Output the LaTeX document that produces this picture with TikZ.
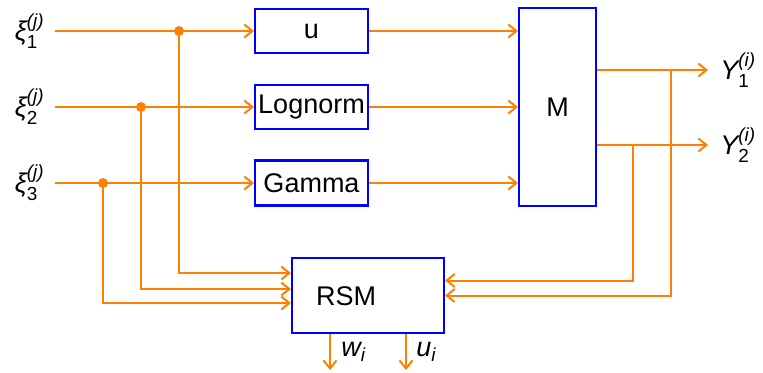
\documentclass[tikz,border=0pt]{standalone}
\usepackage{amsmath}
\usepackage{fontspec}
\setmainfont{Liberation Sans}
\usetikzlibrary{arrows.meta}
\definecolor{flowc}{RGB}{255,128,0}
\newcommand\xlab[3]{$\text{\itshape #1}^{\text{\itshape (#3)}}_{\text{#2}}$}
\newcommand\ilab[2]{$\text{\itshape #1}_{\text{\itshape #2}}$}
\begin{document}
\begin{tikzpicture}[x=0.5pt,y=-0.5pt,
  lab/.style={font=\fontsize{13.5}{16}\selectfont,inner sep=0pt},
  box/.style={draw=blue,line width=1.1pt,inner sep=0pt,font=\fontsize{13.5}{16}\selectfont},
  flow/.style={draw=flowc,line width=1pt},
  arr/.style={flow,-{Straight Barb[length=4pt,width=6.5pt]}},
  dot/.style={circle,fill=flowc,inner sep=0pt,minimum size=5pt}]
\useasboundingbox (0,0) rectangle (763,372);
% boxes
\node[box,minimum width=56.5pt,minimum height=22pt] (u) at (311.5,31) {u};
\node[box,minimum width=56.5pt,minimum height=22pt] (logn) at (311.5,107) {Lognorm};
\node[box,minimum width=56.5pt,minimum height=22.5pt] (gam) at (311.5,183) {Gamma};
\node[box,minimum width=38.5pt,minimum height=99pt] (M) at (557.5,107) {M};
\node[box,minimum width=76pt,minimum height=37.5pt] (RSM) at (368,295.5) {};
\node[lab] (rsmt) at (346,296) {RSM};
% input labels and starts
\coordinate (s1) at (55,31);
\coordinate (s2) at (55,107);
\coordinate (s3) at (55,183);
\node[lab,anchor=east] (x1) at (45,31) {\xlab{ξ}{1}{j}};
\node[lab,anchor=east] (x2) at (45,107) {\xlab{ξ}{2}{j}};
\node[lab,anchor=east] (x3) at (45,183) {\xlab{ξ}{3}{j}};
% branch points
\coordinate (d1) at (179,31);
\coordinate (d2) at (141,107);
\coordinate (d3) at (103,183);
% inputs
\draw[arr] (s1) -- (u);
\draw[arr] (s2) -- (logn);
\draw[arr] (s3) -- (gam);
\draw[arr] (u) -- (u -| M.west);
\draw[arr] (logn) -- (logn -| M.west);
\draw[arr] (gam) -- (gam -| M.west);
% branches to RSM
\draw[arr] (d1) |- ([yshift=11.25pt]RSM.west);
\draw[arr] (d2) |- ([yshift=3.25pt]RSM.west);
\draw[arr] (d3) |- ([yshift=-3.75pt]RSM.west);
\node[dot] (b1) at (d1) {};
\node[dot] (b2) at (d2) {};
\node[dot] (b3) at (d3) {};
% outputs
\coordinate (o1) at (708,70);
\coordinate (o2) at (708,145);
\draw[arr] (M.east |- o1) -- (o1);
\draw[arr] (M.east |- o2) -- (o2);
\node[lab,anchor=west] (Y1) at (720,70) {\xlab{Y}{1}{i}};
\node[lab,anchor=west] (Y2) at (720,145) {\xlab{Y}{2}{i}};
% feedback
\coordinate (f1) at (671,70);
\coordinate (f2) at (633,145);
\draw[arr] (f1) |- (RSM.east);
\draw[arr] (f2) |- ([yshift=7.5pt]RSM.east);
% RSM outputs
\coordinate (wo) at (330,370);
\coordinate (uo) at (406,370);
\draw[arr] ([xshift=-19pt]RSM.south) -- (wo);
\draw[arr] ([xshift=19pt]RSM.south) -- (uo);
\node[lab,anchor=west] (wl) at (341,352) {\ilab{w}{i}};
\node[lab,anchor=west] (ul) at (416,352) {\ilab{u}{i}};
\end{tikzpicture}
\end{document}
